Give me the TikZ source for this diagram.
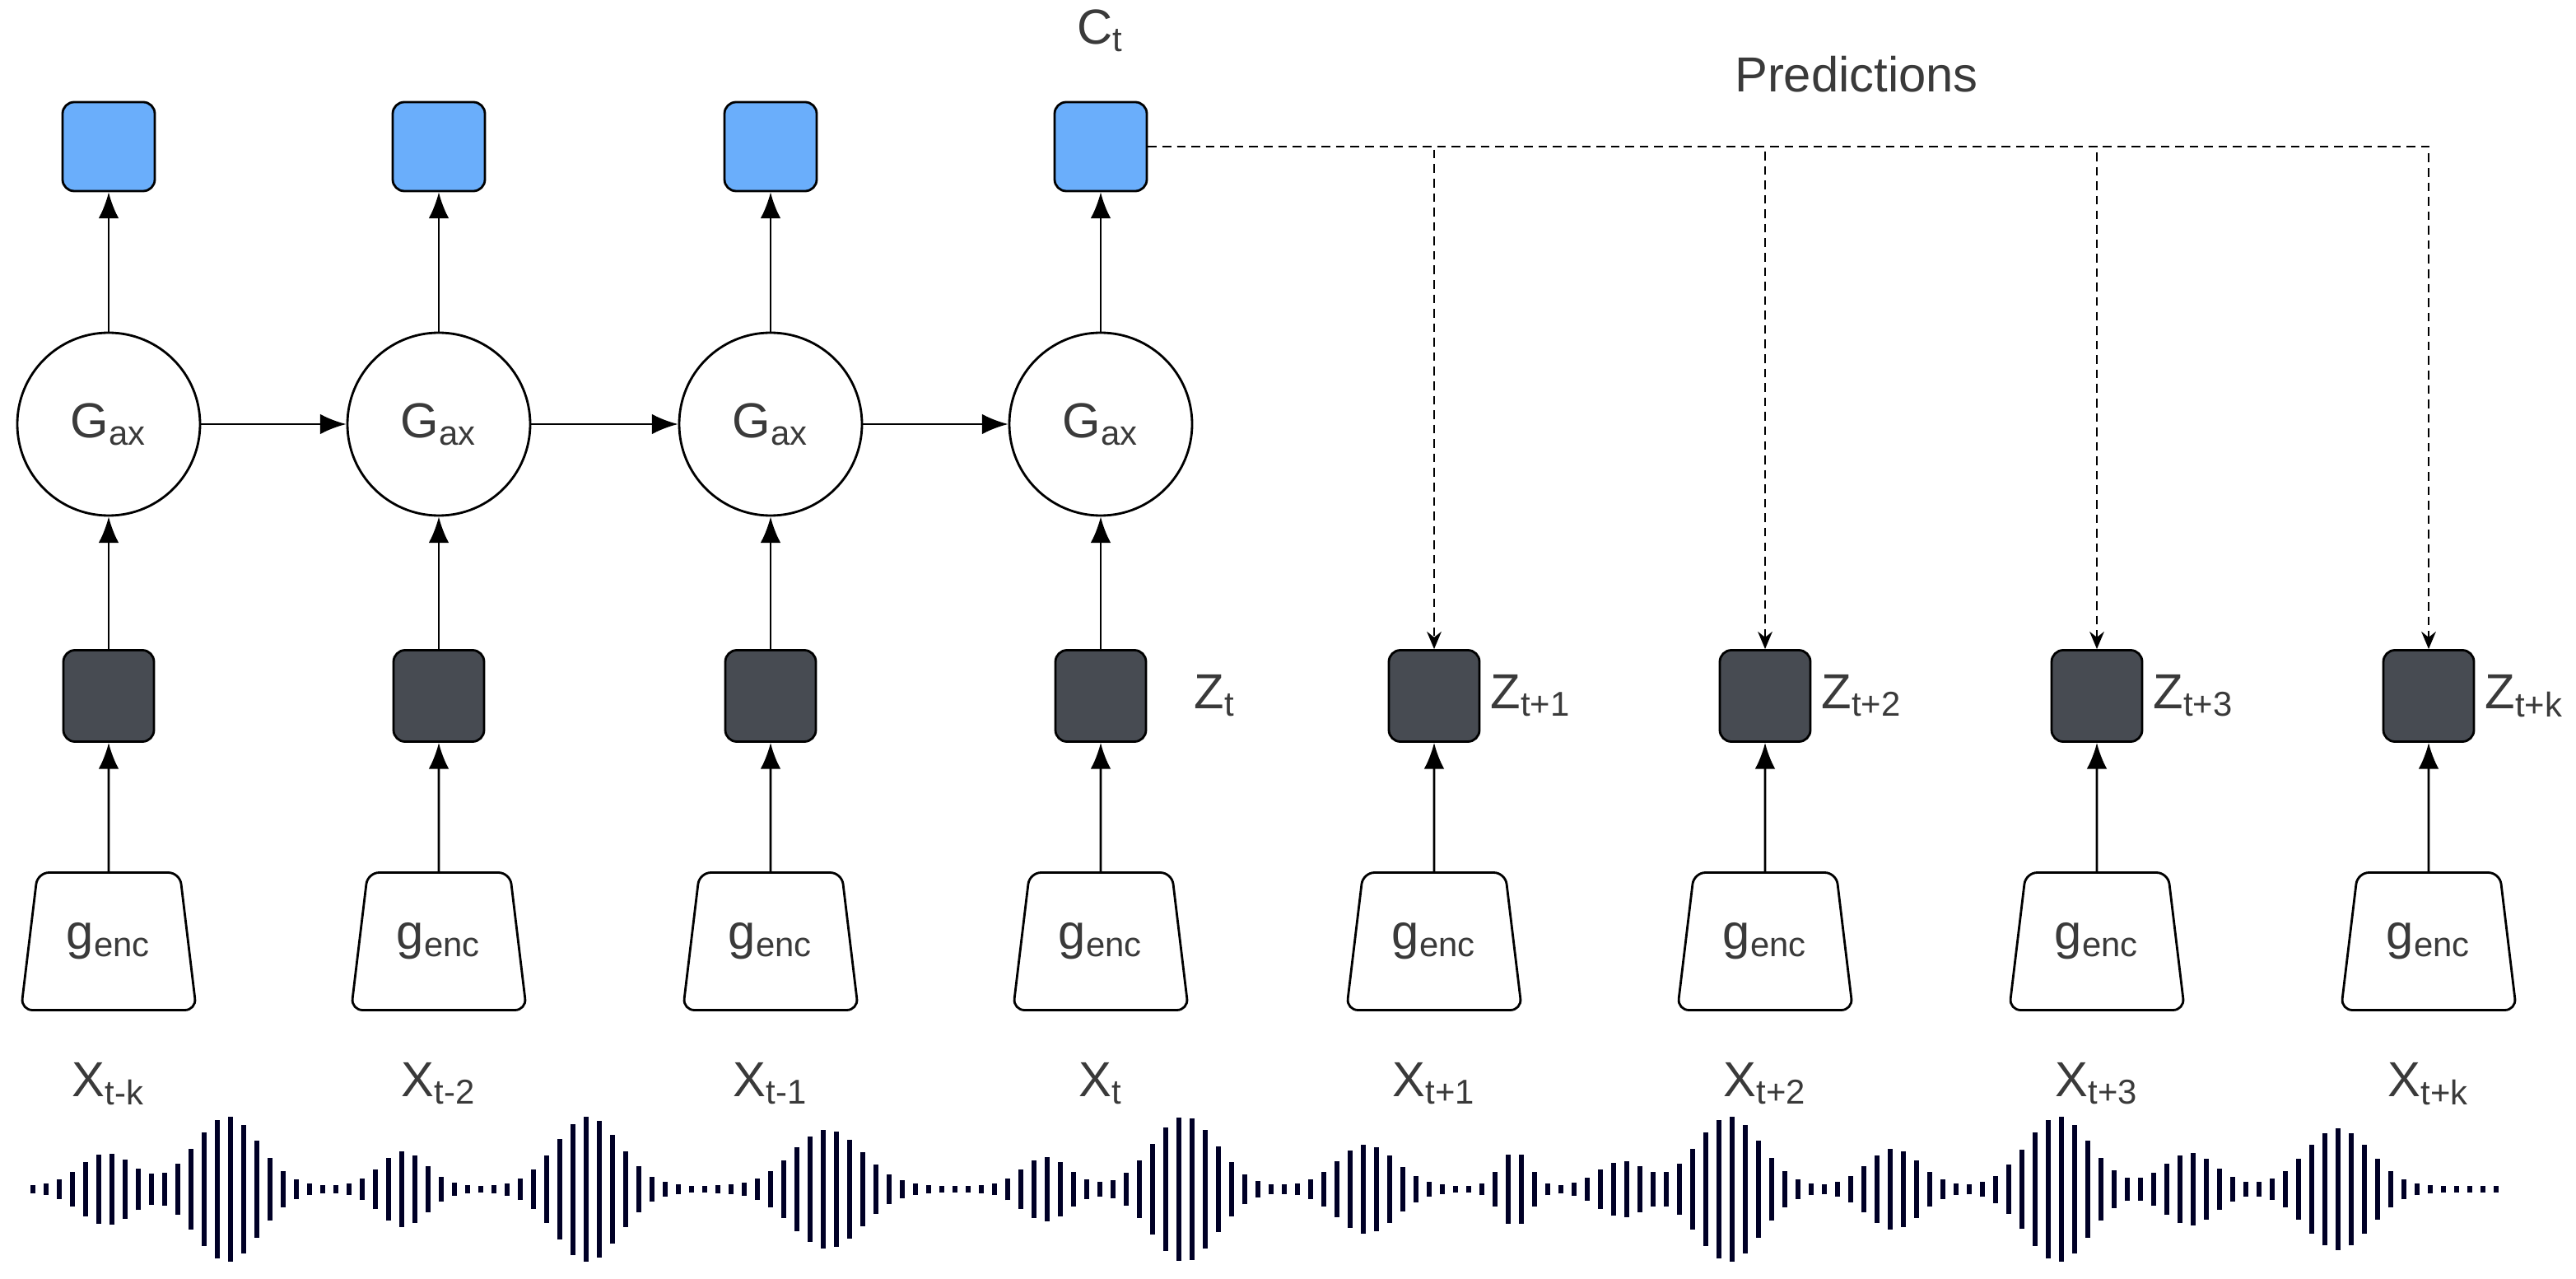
\documentclass[tikz,border=0pt]{standalone}
\usepackage{fontspec}
\setmainfont{Liberation Sans}
\usetikzlibrary{shapes.geometric,positioning,arrows.meta}
\definecolor{ctxblue}{HTML}{6AAEFB}
\definecolor{zdark}{HTML}{474B52}
\definecolor{txtgray}{HTML}{3A3A3A}
\tikzset{
  ctx/.style={draw,rounded corners=4pt,fill=ctxblue,minimum width=1.12cm,minimum height=1.08cm,thick},
  gar/.style={draw,circle,fill=white,minimum size=2.22cm,inner sep=0pt,thick,font=\fontsize{17}{20}\selectfont,text=txtgray},
  lat/.style={draw,rounded corners=4pt,fill=zdark,minimum width=1.1cm,minimum height=1.11cm,thick},
  enc/.style={draw,trapezium,trapezium stretches body,trapezium left angle=73.5,trapezium right angle=73.5,
    minimum width=2.13cm,minimum height=1.67cm,rounded corners=4pt,thick,fill=white,
    font=\fontsize{17}{20}\selectfont,text=txtgray},
  lbl/.style={font=\fontsize{17}{20}\selectfont,text=txtgray},
  arr/.style={-{Latex[length=9pt,width=7pt]},thick},
  pred/.style={densely dashed,-{Stealth[length=6pt,width=5pt]},thick}
}
\begin{document}
\begin{tikzpicture}
\useasboundingbox (0,0) rectangle (31.29,15.52);
%\draw[step=1cm,gray,very thin] (0,0) grid (31,15); %background grid

% encoders and latents for every time step
\foreach \i/\x/\s in {1/1.32/t-k,2/5.33/t-2,3/9.36/t-1,4/13.37/t,5/17.42/t+1,6/21.44/t+2,7/25.47/t+3,8/29.50/t+k}{
  \node[enc] (g\i) at (\x,4.09) {g\textsubscript{enc}};
  \node[lat] (z\i) at (\x,7.07) {};
  \node[lbl] (x\i) at (\x,2.36) {X\textsubscript{\s}};
  \draw[arr] (g\i) -- (z\i);
}

% autoregressive part
\foreach \i in {1,...,4}{
  \node[gar] (a\i) at (z\i |- 0,10.37) {G\textsubscript{ax}};
  \node[ctx] (c\i) at (z\i |- 0,13.74) {};
  \draw[arr] (z\i) -- (a\i);
  \draw[arr] (a\i) -- (c\i);
}
\draw[arr] (a1) -- (a2);
\draw[arr] (a2) -- (a3);
\draw[arr] (a3) -- (a4);

\node[lbl] (ct) at (13.37,15.15) {C\textsubscript{t}};
\node[lbl] (pr) at (22.55,14.62) {Predictions};

\node[lbl,right=0.45cm of z4] (zl4) {Z\textsubscript{t}};
\foreach \i/\s in {5/t+1,6/t+2,7/t+3,8/t+k}{
  \node[lbl,right=0pt of z\i] (zl\i) {Z\textsubscript{\s}};
  \draw[pred] (c4.east) -| (z\i.north);
}

% waveform
\foreach \n in {0,...,187}{
  \pgfmathsetmacro{\wx}{0.40+0.16*\n}
  \pgfmathsetmacro{\wh}{0.04
    +0.40*exp(-min(((\wx-1.30)/0.45)^2,20))+0.84*exp(-min(((\wx-2.76)/0.55)^2,20))
    +0.42*exp(-min(((\wx-4.90)/0.4)^2,20))+0.84*exp(-min(((\wx-7.14)/0.55)^2,20))
    +0.68*exp(-min(((\wx-10.05)/0.6)^2,20))+0.35*exp(-min(((\wx-12.70)/0.4)^2,20))
    +0.84*exp(-min(((\wx-14.39)/0.55)^2,20))+0.50*exp(-min(((\wx-16.60)/0.5)^2,20))
    +0.42*exp(-min(((\wx-18.40)/0.25)^2,20))+0.30*exp(-min(((\wx-19.70)/0.4)^2,20))
    +0.84*exp(-min(((\wx-21.00)/0.55)^2,20))+0.45*exp(-min(((\wx-23.00)/0.45)^2,20))
    +0.84*exp(-min(((\wx-25.00)/0.55)^2,20))+0.40*exp(-min(((\wx-26.60)/0.45)^2,20))
    +0.70*exp(-min(((\wx-28.40)/0.55)^2,20))}
  \draw[line width=1.8pt,color=black!85!blue] (\wx,1.08-\wh) -- (\wx,1.08+\wh);
}
\end{tikzpicture}
\end{document}
